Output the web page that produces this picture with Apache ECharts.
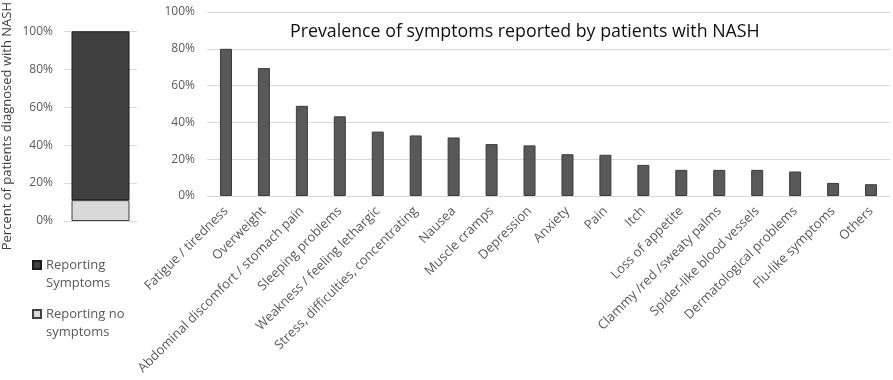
<!DOCTYPE html>
<html>
<head>
<meta charset="utf-8">
<script src="https://cdn.jsdelivr.net/npm/echarts@6/dist/echarts.min.js"></script>
<style>
  html, body { margin: 0; padding: 0; background: #fff; }
  #chart { width: 893px; height: 380px; }
</style>
</head>
<body>
<div id="chart"></div>
<script>
// left panel: share of patients
var shareCategory = ['NASH'];
var noSymptomsPct = [11];
var symptomsPct = [89];

// right panel: prevalence of each symptom
var symptomLabels = [
    'Fatigue / tiredness', 'Overweight', 'Abdominal discomfort / stomach pain',
    'Sleeping problems', 'Weakness / feeling lethargic', 'Stress, difficulties, concentrating',
    'Nausea', 'Muscle cramps', 'Depression', 'Anxiety', 'Pain', 'Itch',
    'Loss of appetite', 'Clammy /red /sweaty palms', 'Spider-like blood vessels',
    'Dermatological problems', 'Flu-like symptoms', 'Others'
];
var symptomValues = [80, 69.5, 49, 43.3, 35, 32.9, 31.8, 28.2, 27.5, 22.7, 22.4, 16.9, 14.2, 14.2, 14.2, 13.3, 7.1, 6.4];

var cFont = '"Open Sans", sans-serif';
var cGrey = '#595959';

var oChart = echarts.init(document.getElementById('chart'));

var oOption = {
    backgroundColor: '#fff',
    textStyle: { fontFamily: cFont },
    animation: false,
    title: {
        text: 'Prevalence of symptoms reported by patients with NASH',
        left: 285,
        top: 18,
        textStyle: { fontFamily: cFont, fontSize: 17.8, fontWeight: 'normal', color: '#111' }
    },
    legend: {
        orient: 'vertical',
        left: 27,
        top: 233,
        itemWidth: 8,
        itemHeight: 8,
        itemGap: -5,
        icon: 'rect',
        data: ['Reporting\nSymptoms', 'Reporting no\nsymptoms'],
        // blank first line so the icon sits level with the first text line
        formatter: function (name) { return '\n' + name; },
        textStyle: { fontFamily: cFont, fontSize: 13, color: cGrey, lineHeight: 18 }
    },
    grid: [
        { left: 61, right: 756, top: 14, bottom: 159 },
        { left: 207, right: 3, top: 12, bottom: 184 }
    ],
    xAxis: [
        {
            type: 'category', gridIndex: 0, data: shareCategory,
            axisLine: { show: true, lineStyle: { color: '#d9d9d9' } },
            axisTick: { show: false },
            axisLabel: { show: false }
        },
        {
            type: 'category', gridIndex: 1, data: symptomLabels,
            axisLine: { show: true, lineStyle: { color: '#d9d9d9' } },
            axisTick: { show: false },
            axisLabel: {
                interval: 0, rotate: 45, margin: 13,
                fontFamily: cFont, fontSize: 13, color: cGrey
            }
        }
    ],
    yAxis: [
        {
            type: 'value', gridIndex: 0, min: 0, max: 100, interval: 20,
            name: 'Percent of patients diagnosed with NASH',
            nameLocation: 'middle', nameGap: 50, nameRotate: 90,
            nameTextStyle: { fontFamily: cFont, fontSize: 13, color: '#404040' },
            axisLine: { show: false },
            axisTick: { show: false },
            axisLabel: { formatter: '{value}%', fontFamily: cFont, fontSize: 12, color: cGrey, margin: 11 },
            splitLine: { lineStyle: { color: '#d9d9d9' } }
        },
        {
            type: 'value', gridIndex: 1, min: 0, max: 100, interval: 20,
            axisLine: { show: false },
            axisTick: { show: false },
            axisLabel: { formatter: '{value}%', fontFamily: cFont, fontSize: 12, color: cGrey, margin: 12 },
            splitLine: { lineStyle: { color: '#d9d9d9' } }
        }
    ],
    series: [
        {
            name: 'Reporting no\nsymptoms',
            type: 'bar', xAxisIndex: 0, yAxisIndex: 0, stack: 'share',
            barWidth: 58,
            data: noSymptomsPct,
            itemStyle: { color: '#d9d9d9', borderColor: '#404040', borderWidth: 1 }
        },
        {
            name: 'Reporting\nSymptoms',
            type: 'bar', xAxisIndex: 0, yAxisIndex: 0, stack: 'share',
            barWidth: 58,
            data: symptomsPct,
            itemStyle: { color: '#404040', borderColor: '#1a1a1a', borderWidth: 1 }
        },
        {
            name: 'Prevalence',
            type: 'bar', xAxisIndex: 1, yAxisIndex: 1,
            barWidth: 12,
            data: symptomValues,
            itemStyle: { color: '#595959', borderColor: '#3a3a3a', borderWidth: 1 }
        }
    ]
};

oChart.setOption(oOption, true);
</script>
</body>
</html>
